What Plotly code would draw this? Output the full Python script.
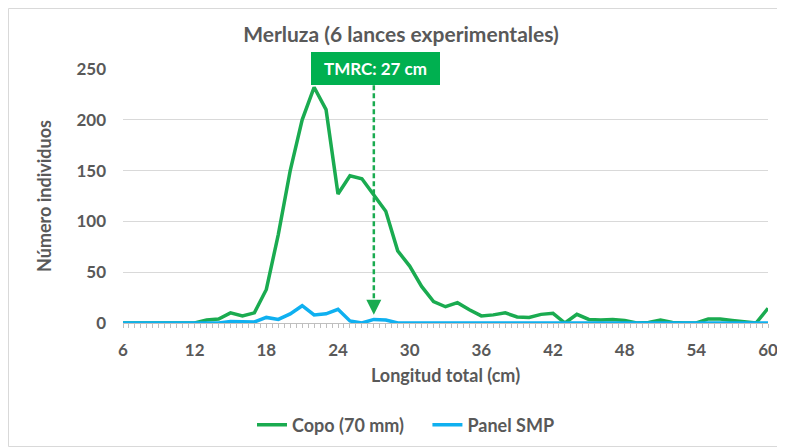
import plotly.graph_objects as go

longitud = list(range(6, 61))
copo = [0, 0, 0, 0, 0, 0, 0, 3, 4, 10, 7, 10, 33, 87, 150, 200, 232, 210, 127, 145,
        142, 126, 110, 71, 56, 36, 21, 16, 20, 13, 7, 8, 10, 6, 5.5, 8.5, 9.5, 0, 8.5, 3.5,
        3, 3.5, 2.5, 0, 0.5, 3, 0.5, 0, 0, 4, 4, 2.5, 1, 0, 14.5]
panel = [0, 0, 0, 0, 0, 0, 0, 0, 0, 1.5, 1, 1, 5.5, 3.5, 9, 17, 8, 9, 13.5, 2,
         0, 3.5, 3, 0, 0, 0, 0, 0, 0, 0, 0, 0, 0, 0, 0, 0, 0, 0, 0, 0,
         0, 0, 0, 0, 0, 0, 0, 0, 0, 0, 0, 0, 0, 0, 0]
x_ticks = [6, 12, 18, 24, 30, 36, 42, 48, 54, 60]
y_ticks = [0, 50, 100, 150, 200, 250]
tmrc = 27

GRAY = "#595959"
FONT = "Lato"
W, H = 777, 439
L, R, T, B = 115, 17, 61, 124
PH = H - T - B

fig = go.Figure()
fig.add_trace(go.Scatter(x=longitud, y=copo, mode="lines",
                         name="<b>Copo (70 mm)</b>&nbsp;&nbsp;&nbsp;&nbsp;",
                         line=dict(color="#1AAB50", width=3.5)))
fig.add_trace(go.Scatter(x=longitud, y=panel, mode="lines", name="<b>Panel SMP</b>",
                         line=dict(color="#0FB0F0", width=3.5)))

fig.update_layout(
    width=W, height=H,
    margin=dict(l=L, r=R, t=T, b=B, autoexpand=False),
    paper_bgcolor="white", plot_bgcolor="white",
    font=dict(family=FONT, color=GRAY, size=15),
    title=dict(text="<b>Merluza (6 lances experimentales)</b>", x=393 / W, xanchor="center",
               xref="container", y=1 - 27 / H, yanchor="middle", yref="container",
               font=dict(size=21, color=GRAY, family=FONT)),
    showlegend=True,
    legend=dict(orientation="h", x=(398 - L) / 645, xanchor="center",
                y=(T + PH - 417) / PH, yanchor="middle",
                font=dict(size=18, color=GRAY, family=FONT)),
)
fig.update_xaxes(range=[6, 60], tickvals=x_ticks, ticktext=[f"<b>{v}</b>" for v in x_ticks],
                 showgrid=False, showline=True, linecolor="#BFBFBF", linewidth=1,
                 ticks="", ticklabelstandoff=12, tickfont=dict(size=17, color=GRAY),
                 minor=dict(dtick=0.5, tick0=6, ticks="outside", ticklen=4, tickcolor="#BFBFBF"),
                 title=dict(text="<b>Longitud total (cm)</b>", font=dict(size=18, color=GRAY), standoff=9),
                 zeroline=False, automargin=False)
fig.update_yaxes(range=[0, 250], tickvals=y_ticks, ticktext=[f"<b>{v}</b>" for v in y_ticks],
                 showgrid=True, gridcolor="#D9D9D9", gridwidth=1, zeroline=False,
                 ticklabelstandoff=16, tickfont=dict(size=17, color=GRAY), automargin=False,
                 title=dict(text="<b>Número individuos</b>", font=dict(size=18, color=GRAY), standoff=20))

# dashed vertical line from box to arrow head
fig.add_shape(type="line", x0=tmrc, x1=tmrc, y0=234, y1=16, xref="x", yref="y",
              line=dict(color="#1AAB50", width=2.5, dash="5px,3px"))
fig.add_annotation(x=tmrc, y=8, xref="x", yref="y", ax=0, ay=-14, text="", showarrow=True,
                   arrowhead=2, arrowsize=1.2, arrowwidth=2.5, arrowcolor="#1AAB50")
fig.add_annotation(x=tmrc + 0.1, y=(T + PH - 60.5) / PH, xref="x", yref="paper",
                   text="<b>TMRC: 27 cm</b>", yanchor="middle",
                   showarrow=False, bgcolor="#00B050", font=dict(color="white", size=17, family=FONT),
                   width=121, height=25, borderpad=4, borderwidth=0)

# chart frame
fig.add_shape(type="rect", xref="paper", yref="paper",
              x0=(0.5 - L) / 645, x1=(W - 0.5 - L) / 645,
              y0=(T + PH - (H - 0.5)) / PH, y1=(T + PH - 0.5) / PH,
              line=dict(color="#D9D9D9", width=1), fillcolor="rgba(0,0,0,0)", layer="below")

fig.write_html("out.html")
